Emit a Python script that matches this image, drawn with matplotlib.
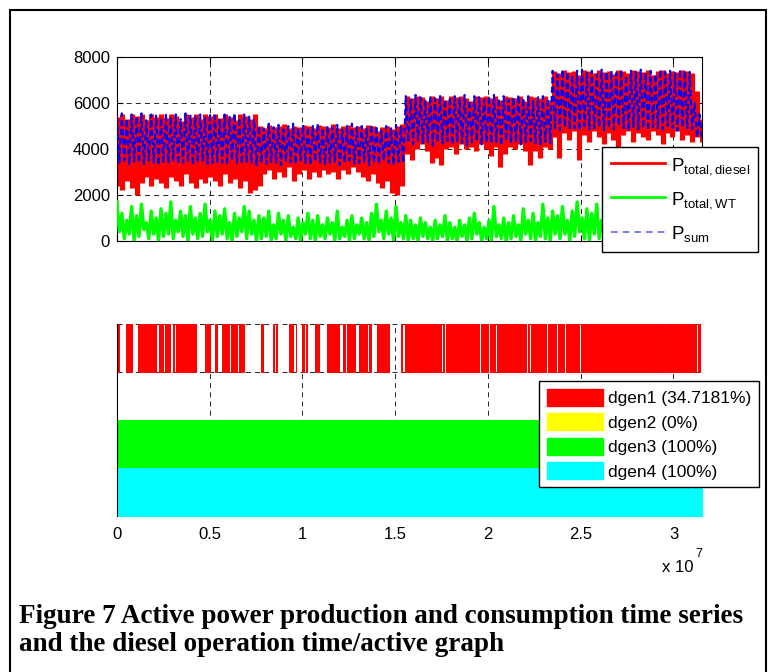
import numpy as np
import matplotlib.pyplot as plt
from matplotlib.lines import Line2D
from matplotlib.patches import Patch, Rectangle

T_END = 3.1536e7  # one year in seconds

# top panel: one max/min pair per time step, W
diesel_hi = [5400, 5500, 5300, 5500, 5450, 5500, 5250, 5500, 5400, 5500,
             5350, 5500, 5450, 5200, 5500, 5400, 5500, 5300, 5500, 5450,
             5500, 5350, 5500, 5400, 5250, 5500, 5450, 5300, 5500,
             5000, 4900, 5050, 4950, 5000, 5100, 4900, 5000, 4950, 5050, 5000,
             4900, 5050, 5000, 4950, 5100, 4900, 5000, 5050, 4950, 5000,
             4900, 5050, 5000, 4800, 4950, 5000, 4850, 5000, 5100,
             6300, 6200, 6300, 6250, 6100, 6300, 6200, 6300, 6150, 6300,
             6250, 6300, 6200, 6100, 6300, 6250, 6300, 6200, 6300, 6150,
             6300, 6250, 6200, 6300, 6100, 6300, 6250, 6200, 6300, 6150,
             7400, 7300, 7450, 7350, 7400, 7200, 7450, 7400, 7300, 7450,
             7350, 7400, 7250, 7450, 7400, 7300, 7450, 7400, 7350, 7450,
             7200, 7400, 7450, 7300, 7400, 7350, 7450, 7400, 7300,
             6500, 5300]
diesel_lo = [2400, 2200, 2600, 2300, 2000, 2500, 2800, 2400, 2700, 2500,
             2300, 2800, 2600, 2400, 2900, 2500, 2300, 2700, 2500, 2800,
             2600, 2400, 2900, 2500, 2700, 2300, 2600, 2100, 2200, 2400,
             2900, 3100, 2700, 3000, 2800, 3200, 2600, 2900, 3100, 2700,
             3000, 2800, 3100, 2900, 3000, 2700, 3100, 2900, 3200, 3000,
             2800, 2600, 2900, 2500, 2300, 2600, 2100, 2000, 2400,
             3800, 3500, 4000, 4200, 3900, 3400, 3600, 3300, 4000, 4100,
             3800, 4200, 4000, 4100, 3900, 4200, 4000, 3700, 4100, 3200,
             3800, 4100, 4000, 4200, 3900, 3300, 3900, 3600, 4100, 4000,
             4500, 3600, 4700, 4400, 4800, 3500, 4600, 4300, 4800, 4500,
             4200, 4700, 4400, 3900, 4600, 4800, 4300, 4700, 4500, 4400,
             4800, 4600, 4200, 4700, 4500, 4800, 4400, 4600, 4300,
             4500, 4300]

psum_hi = [5450, 5550, 5300, 5500, 5400, 5550, 5250, 5500, 5450, 5350,
           5550, 5400, 5500, 5300, 5550, 5450, 5400, 5500, 5350, 5550,
           5450, 5300, 5500, 5400, 5550, 5350, 5500, 5450, 5300,
           5000, 4900, 5100, 4950, 5050, 4850, 5000, 5100, 4900, 5050,
           4950, 5000, 5100, 4900, 5000, 4950, 5050, 4850, 5000, 5100,
           4950, 5000, 4900, 5050, 5000, 4800, 5000, 4900, 5050, 5000,
           6300, 6150, 6350, 6250, 6100, 6300, 6200, 6350, 6150, 6250,
           6300, 6200, 6350, 6100, 6300, 6250, 6150, 6300, 6350, 6200,
           6300, 6150, 6250, 6350, 6200, 6300, 6100, 6250, 6300, 6200,
           7400, 7250, 7450, 7350, 7200, 7400, 7450, 7300, 7400, 7250,
           7450, 7350, 7400, 7300, 7450, 7200, 7400, 7350, 7450, 7300,
           7400, 7250, 7450, 7350, 7400, 7300, 7450, 7400, 7350,
           6000, 5500]
psum_lo = [3400, 3500, 3300, 3450, 3400, 3350, 3500, 3400, 3300, 3450,
           3400, 3500, 3350, 3400, 3450, 3300, 3400, 3500, 3350, 3400,
           3450, 3400, 3300, 3500, 3400, 3350, 3450, 3400, 3300,
           3400, 3350, 3450, 3400, 3300, 3450, 3400, 3350, 3500, 3400,
           3300, 3450, 3400, 3350, 3400, 3450, 3300, 3400, 3500, 3350,
           3400, 3450, 3300, 3400, 3350, 3500, 3400, 3300, 3450, 3400,
           4300, 4200, 4350, 4250, 4300, 4150, 4300, 4250, 4350, 4200,
           4300, 4250, 4150, 4300, 4350, 4200, 4300, 4250, 4300, 4150,
           4350, 4250, 4300, 4200, 4300, 4350, 4250, 4200, 4300, 4250,
           4900, 4800, 4950, 4850, 4900, 4800, 5000, 4850, 4900, 4950,
           4800, 4900, 4850, 5000, 4900, 4800, 4950, 4850, 4900, 4800,
           4950, 4900, 4850, 5000, 4900, 4800, 4950, 4900, 4850,
           4500, 4400]

wt_hi = [1700, 1200, 900, 1500, 1100, 1600, 800, 1300, 1000, 1400,
         1200, 1700, 900, 1300, 1100, 1500, 1000, 1200, 1600, 900,
         1300, 1100, 1400, 800, 1200, 1000, 1500, 1300, 900, 1100,
         1000, 1300, 700, 1200, 900, 1100, 600, 1000, 800, 1200,
         900, 1100, 700, 1000, 800, 1300, 600, 900, 1100, 700,
         1000, 800, 1200, 1600, 900, 1300, 1000, 1500, 800, 1100,
         900, 700, 1000, 800, 600, 900, 700, 1100, 800, 600,
         900, 700, 1000, 1200, 800, 600, 900, 1500, 700, 1000,
         800, 1100, 700, 1400, 900, 1200, 800, 1600, 1000, 1300,
         1100, 1500, 900, 1300, 1700, 1000, 1400, 1200, 1600, 900,
         1300, 1000, 1500, 1200, 900, 1400, 1100, 1600, 1000, 1300,
         1200, 1500, 900, 1400, 1100, 1300, 1600, 1000, 1500, 1200]
wt_lo = [400, 100, 300, 0, 200, 500, 100, 300, 0, 200,
         300, 100, 400, 200, 0, 300, 100, 200, 400, 0,
         200, 300, 100, 0, 200, 400, 100, 300, 0, 100,
         200, 0, 100, 300, 0, 200, 100, 0, 300, 100,
         0, 200, 100, 300, 0, 100, 200, 0, 100, 300,
         100, 0, 200, 400, 100, 300, 0, 200, 100, 0,
         100, 0, 200, 100, 0, 100, 200, 0, 100, 0,
         200, 0, 100, 300, 0, 100, 0, 200, 100, 0,
         100, 200, 0, 300, 100, 0, 200, 100, 0, 300,
         100, 300, 0, 200, 400, 100, 0, 300, 100, 200,
         0, 300, 100, 200, 0, 400, 100, 200, 300, 0,
         200, 100, 300, 0, 200, 400, 100, 300, 0, 200]

# diesel on periods (start, end) in units of 1e7 s
dgen1_on = [(0.007, 0.012), (0.050, 0.063), (0.068, 0.083), (0.111, 0.122),
            (0.131, 0.140), (0.146, 0.154), (0.162, 0.171), (0.176, 0.187),
            (0.194, 0.211), (0.225, 0.234), (0.238, 0.246), (0.261, 0.270),
            (0.273, 0.288), (0.300, 0.309), (0.316, 0.335), (0.342, 0.360),
            (0.369, 0.383), (0.390, 0.401), (0.405, 0.428), (0.473, 0.482),
            (0.486, 0.504), (0.527, 0.540), (0.567, 0.581), (0.590, 0.606),
            (0.616, 0.626), (0.630, 0.648), (0.657, 0.670), (0.675, 0.684),
            (0.779, 0.786), (0.840, 0.848), (0.855, 0.862), (0.927, 0.936),
            (0.945, 0.950), (0.963, 0.967), (0.999, 1.008), (1.017, 1.026),
            (1.065, 1.080), (1.085, 1.089), (1.134, 1.146), (1.152, 1.197),
            (1.218, 1.229), (1.242, 1.283), (1.305, 1.319), (1.326, 1.350),
            (1.359, 1.368), (1.404, 1.416), (1.425, 1.449), (1.458, 1.467),
            (1.530, 1.535), (1.551, 1.584), (1.589, 1.602), (1.607, 1.616),
            (1.625, 1.724), (1.731, 1.749), (1.755, 1.764), (1.773, 1.809),
            (1.818, 1.854), (1.859, 1.935), (1.940, 1.953), (1.962, 2.001),
            (2.012, 2.021), (2.026, 2.039), (2.048, 2.084), (2.090, 2.183),
            (2.188, 2.205), (2.214, 2.222), (2.232, 2.268), (2.273, 2.313),
            (2.322, 2.367), (2.376, 2.411), (2.421, 2.492), (2.502, 2.543),
            (2.550, 2.619), (2.627, 2.916), (2.924, 2.951), (2.957, 3.105),
            (3.113, 3.119), (3.132, 3.144)]
dgen2_on = [(0.0, 0.0)]
dgen3_on = [(0.0, 3.1536)]
dgen4_on = [(0.0, 3.1536)]
dgen_labels = ['dgen1 (34.7181%)', 'dgen2 (0%)', 'dgen3 (100%)', 'dgen4 (100%)']
dgen_colors = ['#ff0000', '#ffff00', '#00ff00', '#00ffff']

x_ticks = [0, 0.5, 1, 1.5, 2, 2.5, 3]
y_ticks = [0, 2000, 4000, 6000, 8000]

plt.rcParams['font.family'] = ['Liberation Sans', 'DejaVu Sans']
plt.rcParams['font.size'] = 12

fig = plt.figure(figsize=(7.68, 6.72), dpi=100)

grid_kw = dict(color='black', linestyle=(0, (6, 5)), linewidth=0.6)

# ---- power time series
ax1 = fig.add_axes([0.1523, 0.6414, 0.7617, 0.2738])
t = np.linspace(0, T_END, len(diesel_hi))
t2 = np.linspace(0, T_END, 2 * len(psum_hi))
psum = np.column_stack([psum_hi, psum_lo]).ravel()
wt = np.column_stack([wt_hi, wt_lo]).ravel()

ax1.vlines(t, diesel_lo, diesel_hi, color='red', linewidth=3.7, zorder=2)
ax1.plot(t2, wt, color='#00ff00', linewidth=2.4, zorder=3)
ax1.plot(t2, psum, color='blue', linewidth=1.5, linestyle=(0, (3, 1.5)), zorder=4)

ax1.set_xlim(0, T_END)
ax1.set_ylim(0, 8000)
ax1.set_yticks(y_ticks)
ax1.set_xticks([v * 1e7 for v in x_ticks])
ax1.set_xticklabels([])
ax1.tick_params(direction='in', top=True, right=True, length=4, pad=5)
ax1.grid(True, **grid_kw)
for s in ax1.spines.values():
    s.set_linewidth(0.8)

handles = [Line2D([], [], color='red', lw=2),
           Line2D([], [], color='#00ff00', lw=2),
           Line2D([], [], color='#6666ff', lw=1.2, linestyle=(0, (4, 3)))]
names = [r'$\mathregular{P_{total,diesel}}$', r'$\mathregular{P_{total,WT}}$',
         r'$\mathregular{P_{sum}}$']
leg1 = fig.legend(handles, names, loc='upper left', bbox_to_anchor=(0.784, 0.781),
                  fontsize=13.5, frameon=True, fancybox=False, edgecolor='black',
                  framealpha=1, handlelength=2.9, handletextpad=0.3,
                  labelspacing=0.7, borderpad=0.45, borderaxespad=0)
leg1.get_frame().set_linewidth(1.0)

# ---- diesel on/off bands
ax2 = fig.add_axes([0.1523, 0.2321, 0.7617, 0.2857])
bands = [dgen1_on, dgen2_on, dgen3_on, dgen4_on]
for k, ivals in enumerate(bands):
    xr = [(a * 1e7, (b - a) * 1e7) for a, b in ivals]
    ax2.broken_barh(xr, (3 - k, 1), facecolors=dgen_colors[k],
                    edgecolor=dgen_colors[k], linewidth=0.7, zorder=2)

ax2.set_xlim(0, T_END)
ax2.set_ylim(0, 4)
ax2.set_yticks([0, 1, 2, 3, 4])
ax2.set_yticklabels([])
ax2.set_xticks([v * 1e7 for v in x_ticks])
ax2.set_xticklabels(['%g' % v for v in x_ticks])
ax2.tick_params(direction='in', length=0, pad=8)
ax2.grid(True, **grid_kw)
ax2.set_axisbelow(True)
for side in ['top', 'right', 'bottom']:
    ax2.spines[side].set_visible(False)
ax2.spines['left'].set_linewidth(0.8)

patches = [Patch(facecolor=c, edgecolor=c) for c in dgen_colors]
leg2 = fig.legend(patches, dgen_labels, loc='upper left',
                  bbox_to_anchor=(0.702, 0.433), fontsize=12.5, frameon=True,
                  fancybox=False, edgecolor='black', framealpha=1,
                  handlelength=3.2, handleheight=1.1, handletextpad=0.3,
                  labelspacing=0.42, borderpad=0.45, borderaxespad=0)
leg2.get_frame().set_linewidth(1.0)

fig.text(662 / 768, 1 - 567 / 672, 'x 10', ha='left', va='center', fontsize=12)
fig.text(695 / 768, 1 - 554 / 672, '7', ha='left', va='center', fontsize=9)

# caption and frame
cap_kw = dict(family='Liberation Serif', weight='bold', fontsize=19.5,
              ha='left', va='baseline')
fig.text(19 / 768, 1 - 623 / 672,
         'Figure 7 Active power production and consumption time series', **cap_kw)
fig.text(19 / 768, 1 - 651 / 672,
         'and the diesel operation time/active graph', **cap_kw)

fig.patches.append(Rectangle((10 / 768, -0.02), 756 / 768, 1.005,
                             transform=fig.transFigure, fill=False,
                             edgecolor='black', linewidth=1.5))

fig.savefig('out.png', dpi=100)
